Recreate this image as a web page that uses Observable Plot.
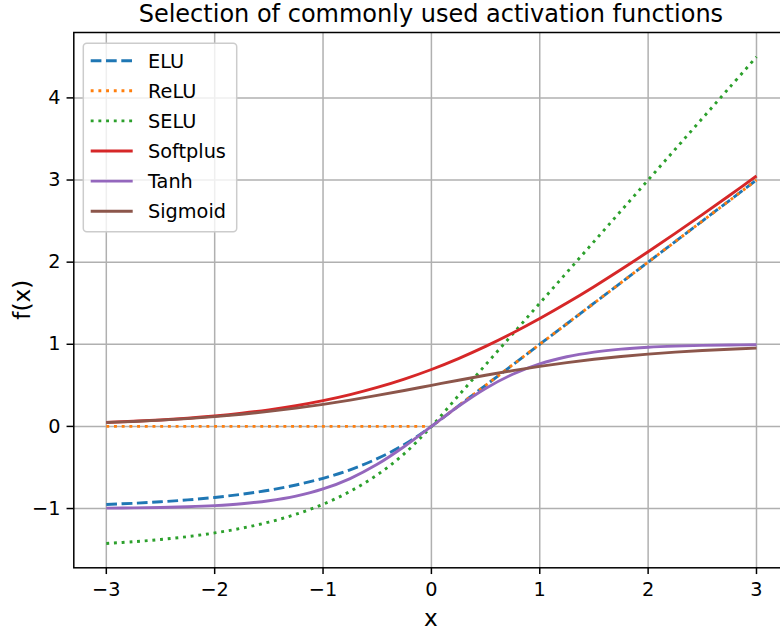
<!DOCTYPE html>
<html>
<head>
<meta charset="utf-8">
<script src="https://cdn.jsdelivr.net/npm/d3@7"></script>
<script src="https://cdn.jsdelivr.net/npm/@observablehq/plot@0.6"></script>
<style>
  html, body { margin: 0; padding: 0; background: #fff; }
  svg { font-family: "DejaVu Sans", sans-serif; }
</style>
</head>
<body>
<div id="chart"></div>
<script>
const xs = [-3, -2.75, -2.5, -2.25, -2, -1.75, -1.5, -1.25, -1, -0.75, -0.5, -0.25, 0,
            0.25, 0.5, 0.75, 1, 1.25, 1.5, 1.75, 2, 2.25, 2.5, 2.75, 3];
const elu = [-0.950, -0.936, -0.918, -0.895, -0.865, -0.826, -0.777, -0.713, -0.632, -0.528, -0.393, -0.221, 0,
             0.25, 0.5, 0.75, 1, 1.25, 1.5, 1.75, 2, 2.25, 2.5, 2.75, 3];
const relu = [0, 0, 0, 0, 0, 0, 0, 0, 0, 0, 0, 0, 0,
              0.25, 0.5, 0.75, 1, 1.25, 1.5, 1.75, 2, 2.25, 2.5, 2.75, 3];
const selu = [-1.425, -1.404, -1.377, -1.342, -1.297, -1.239, -1.165, -1.070, -0.948, -0.791, -0.590, -0.332, 0,
              0.375, 0.75, 1.125, 1.5, 1.875, 2.25, 2.625, 3, 3.375, 3.75, 4.125, 4.5];
const softplus = [0.0486, 0.0620, 0.0789, 0.1002, 0.1269, 0.1602, 0.2014, 0.2519, 0.3133, 0.3869, 0.4741, 0.5759, 0.6931,
                  0.8259, 0.9741, 1.1369, 1.3133, 1.5019, 1.7014, 1.9102, 2.1269, 2.3502, 2.5789, 2.8120, 3.0486];
const tanh = [-0.9951, -0.9919, -0.9866, -0.9780, -0.9640, -0.9414, -0.9052, -0.8483, -0.7616, -0.6351, -0.4621, -0.2449, 0,
              0.2449, 0.4621, 0.6351, 0.7616, 0.8483, 0.9052, 0.9414, 0.9640, 0.9780, 0.9866, 0.9919, 0.9951];
const sigmoid = [0.0474, 0.0601, 0.0759, 0.0953, 0.1192, 0.1480, 0.1824, 0.2227, 0.2689, 0.3208, 0.3775, 0.4378, 0.5,
                 0.5622, 0.6225, 0.6792, 0.7311, 0.7773, 0.8176, 0.8520, 0.8808, 0.9047, 0.9241, 0.9399, 0.9526];

const seriesNames = ["ELU", "ReLU", "SELU", "Softplus", "Tanh", "Sigmoid"];
const seriesValues = [elu, relu, selu, softplus, tanh, sigmoid];
const seriesColors = ["#1f77b4", "#ff7f0e", "#2ca02c", "#d62728", "#9467bd", "#8c564b"];
const seriesDash = ["10.7,4.6", "2.9,4.8", "2.9,4.8", null, null, null];
const seriesCurve = ["catmull-rom", "linear", "catmull-rom", "catmull-rom", "catmull-rom", "catmull-rom"];

const xTicks = [-3, -2, -1, 0, 1, 2, 3];
const yTicks = [-1, 0, 1, 2, 3, 4];
const titleText = "Selection of commonly used activation functions";
const xLabel = "x";
const yLabel = "f(x)";

const fmt = d => d < 0 ? "\u2212" + Math.abs(d) : String(d);
const LW = 2.9;

const lineMarks = seriesNames.map((name, i) =>
  Plot.line(xs.map((x, j) => ({x, y: seriesValues[i][j]})), {
    x: "x", y: "y",
    stroke: seriesColors[i],
    strokeWidth: LW,
    strokeDasharray: seriesDash[i] || undefined,
    strokeLinecap: "butt",
    curve: seriesCurve[i]
  })
);

const W = 780, H = 632;
const mL = 73.3, mT = 32, mB = H - 567.3, mR = W - 788.5;

const chart = Plot.plot({
  width: W, height: H,
  marginLeft: mL, marginTop: mT, marginBottom: mB, marginRight: mR,
  style: {fontFamily: "DejaVu Sans, sans-serif", background: "#fff", overflow: "hidden"},
  x: {domain: [-3.3, 3.3]},
  y: {domain: [-1.7216, 4.7963]},
  marks: [
    Plot.gridX(xTicks, {stroke: "#b0b0b0", strokeOpacity: 1, strokeWidth: 1.5}),
    Plot.gridY(yTicks, {stroke: "#b0b0b0", strokeOpacity: 1, strokeWidth: 1.5}),
    ...lineMarks,
    Plot.frame({stroke: "black", strokeWidth: 1.5}),
    Plot.axisX(xTicks, {tickSize: 6.75, tickPadding: 7.5, fontSize: 19.3, tickFormat: fmt, label: null, strokeWidth: 1.5, color: "black"}),
    Plot.axisY(yTicks, {tickSize: 6.75, tickPadding: 6.5, fontSize: 19.3, tickFormat: fmt, label: null, strokeWidth: 1.5, color: "black"})
  ]
});

document.getElementById("chart").appendChild(chart);

const svg = d3.select(chart);
const cx = (mL + (W - mR)) / 2;
const cy = (mT + (H - mB)) / 2;

svg.append("text")
  .attr("x", cx).attr("y", 22)
  .attr("text-anchor", "middle")
  .attr("font-size", 24)
  .attr("fill", "black")
  .text(titleText);

svg.append("text")
  .attr("x", cx).attr("y", 626)
  .attr("text-anchor", "middle")
  .attr("font-size", 23.2)
  .attr("fill", "black")
  .text(xLabel);

svg.append("text")
  .attr("transform", `translate(30,${cy}) rotate(-90)`)
  .attr("text-anchor", "middle")
  .attr("font-size", 23.2)
  .attr("fill", "black")
  .text(yLabel);

// legend
const lg = svg.append("g");
lg.append("rect")
  .attr("x", 83.3).attr("y", 43.3)
  .attr("width", 153.4).attr("height", 188.4)
  .attr("rx", 3.5)
  .attr("fill", "white").attr("fill-opacity", 0.8)
  .attr("stroke", "#cccccc").attr("stroke-width", 1.5);
seriesNames.forEach((name, i) => {
  const y = 60.7 + i * 30.1;
  lg.append("line")
    .attr("x1", 90.7).attr("x2", 132.7)
    .attr("y1", y).attr("y2", y)
    .attr("stroke", seriesColors[i])
    .attr("stroke-width", LW)
    .attr("stroke-dasharray", seriesDash[i] || null);
  lg.append("text")
    .attr("x", 148).attr("y", y)
    .attr("dy", "0.36em")
    .attr("text-anchor", "start")
    .attr("font-size", 19.3)
    .attr("fill", "black")
    .text(name);
});
</script>
</body>
</html>
